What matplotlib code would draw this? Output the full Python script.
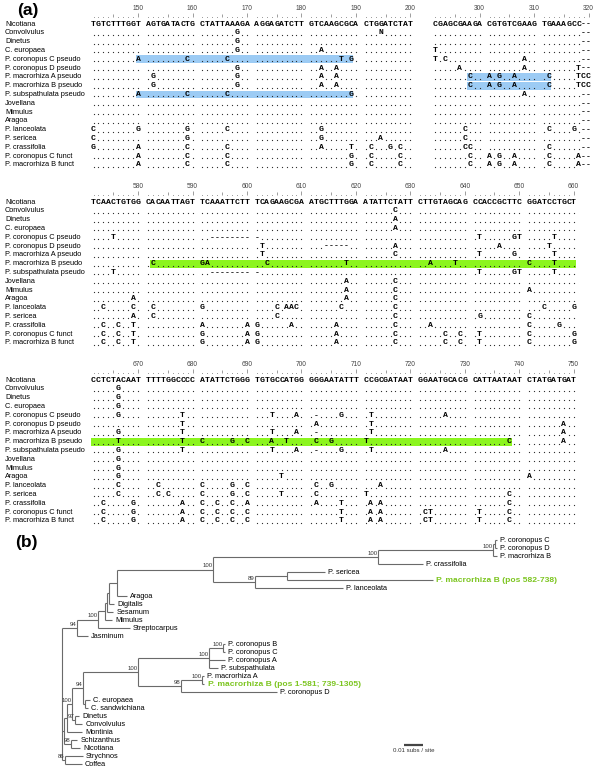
import numpy as np
import matplotlib.pyplot as plt

# ---- panel (a): alignment -------------------------------------------------
taxa = ["Nicotiana", "Convolvulus", "Dinetus", "C. europaea",
        "P. coronopus C pseudo", "P. coronopus D pseudo",
        "P. macrorhiza A pseudo", "P. macrorhiza B pseudo",
        "P. subspathulata pseudo", "Jovellana", "Mimulus", "Aragoa",
        "P. lanceolata", "P. sericea", "P. crassifolia",
        "P. coronopus C funct", "P. macrorhiza B funct"]

# (first position, number of 10-base groups, first column) for each stretch
block_segments = [[(141, 6, 0), (291, 3, 69)],
                  [(571, 9, 0)],
                  [(661, 9, 0)]]

block1_rows = [
    "TGTCTTTGGT AGTGATACTG CTATTAAAGA AGGAGATCTT GTCAAGCGCA CTGGATCTAT CGAGCGAAGA CGTGTCGAAG TGAAAGCC--",
    ".......... .......... .......G.. .......... .......... ...N...... .......... .......... ........--",
    ".......... .......... .......G.. .......... .......... .......... .......... .......... ........--",
    ".......... .......... .......G.. .......... ..A....... .......... T......... .......... ........--",
    ".........A ........C. .....C.... .......... ......T.G. .......... T.C....... .......A.. ........--",
    ".......... .......... .......G.. .......... ..A..A.... .......... .....A.... .......A.. .......T--",
    ".......... .G........ .......G.. .......... ..A..A.... .......... .......C.. A.G..A.... .C.....TCC",
    ".......... .G........ .......G.. .......... ..A..A.... .......... .......C.. A.G..A.... .C.....TCC",
    ".........A ........C. .....C.... .......... ........G. .......... .......... .......A.. ........--",
    ".......... .......... .......... .......... .......... .......... .......... .......... ........--",
    ".......... .......... .......... .......... .......... .......... .......... .......... ........--",
    ".......... .......... .......... .......... .......... .......... .......... .......... ........--",
    "C........G ........G. .....C.... .......... ..G....... .......... ......C... .......... .C....G.--",
    "C......... ........G. .......... .......... ..G....... ...A...... ......C... .......... ........--",
    "G........A ........C. .....C.... .......... ..A.....T. .C...G.C.. ......CC.. .......... .C......--",
    ".........A ........C. .....C.... .......... ........G. .C.....C.. .......C.. A.G..A.... .C.....A--",
    ".........A ........C. .....C.... .......... ........G. .C.....C.. .......C.. A.G..A.... .C.....A--",
]

block2_rows = [
    "TCAACTGTGG CACAATTAGT TCAAATTCTT TCAGAAGCGA ATGCTTTGGA ATATTCTATT CTTGTAGCAG CCACCGCTTC GGATCCTGCT",
    ".......... .......... .......... .......... .......... ......C... .......... .......... ..........",
    ".......... .......... .......... .......... .......... ......A... .......... .......... ..........",
    ".......... .......... .......... .......... .......... ......A... .......... .......... ..........",
    "....T..... .......... ..-------- -......... .......... .......... .......... .T......GT .....T....",
    ".......... .......... .......... .T........ ...-----.. ......A... .......... .....A.... ....T.....",
    ".......... .......... .......... .T........ .......... ......C... .......... .T......G. .....T....",
    ".......... .C........ GA........ ..C....... .......T.. .......... ..A....T.. .......... C....T....",
    "....T..... .......... ..-------- -......... .......... .......... .......... .T......GT .....T....",
    ".......... .......... .......... .......... .......A.. ......C... .......... .......... ..........",
    ".......... .......... .......... .......... .......A.. ......C... .......... .......... A.........",
    "........A. .......... .......... .......... .......A.. ......C... .......... .......... ..........",
    "..C.....C. .C........ G......... ....C.AAC. ......C... ......C... .......... .......... ...C.....G",
    "........A. .C........ .......... ....C..... .......... ......C... .......... .G........ C.........",
    "..C..C..T. .......... A........A G......A.. .....A.... ......C... ..A....... .......... C.....G...",
    "..C..C..T. .......... G........A G......... .....A.... ......C... .....C..C. .T........ C........G",
    "..C..C..T. .......... G........A G......... .....A.... ......C... .....C..C. .T........ C........G",
]

block3_rows = [
    "CCTCTACAAT TTTTGGCCCC ATATTCTGGG TGTGCCATGG GGGAATATTT CCGCGATAAT GGAATGCACG CATTAATAAT CTATGATGAT",
    ".....G.... .......... .......... .......... .......... .......... .......... .......... ..........",
    ".....G.... .......... .......... .......... .......... .......... .......... .......... ..........",
    ".....G.... .......... .......... .......... .......... .......... .......... .......... ..........",
    ".....G.... .......T.. .......... ...T....A. .-....G... .T........ .....A.... .......... ..........",
    ".......... .......T.. .......... .......... .A........ .T........ .......... .......... .......A..",
    ".....G.... .......T.. .......... ...T....A. .-........ .T........ .......... .......... .......A..",
    ".....T.... .......T.. C.....G..C ...A..T... .C..G..... T......... .......... .......C.. .......A..",
    ".....G.... .......T.. .......... ...T....A. .-....G... .T........ .....A.... .......... ..........",
    ".....G.... .......... .......... .......... .......... .......... .......... .......... ..........",
    ".....G.... .......... .......... .......... .......... .......... .......... .......... ..........",
    ".....G.... .......... .......... .....T.... .......... .......... .......... .......... A.........",
    ".....C.... ..C....... C.....G..C .......... .C..G..... ...A...... .......... .......... ..........",
    ".....C.... ..C.C..... C.....G..C .....T.... .C........ T......... .......... .......C.. ..........",
    "..C.....G. .......A.. C..C..C..A .......... .A....T... .A.A...... .......... .......C.. ..........",
    "..C.....G. .......A.. C..C..C..C .......... ......T... .A.A...... .CT....... .T.....C.. ..........",
    "..C.....G. .......A.. C..C..C..C .......... ......T... .A.A...... .CT....... .T.....C.. ..........",
]

# (block, row, first position, last position, colour)
highlights = [(0, 4, 150, 189, "#9ccbf4"), (0, 8, 150, 189, "#9ccbf4"),
              (0, 6, 298, 312, "#9ccbf4"), (0, 7, 298, 312, "#9ccbf4"),
              (1, 7, 582, 660, "#8cf51e"), (2, 7, 661, 738, "#8cf51e")]

# ---- panel (b): tree  (children or name, branch length, bootstrap) --------
node_plantago_f = ([
    ([([([("P. coronopus C", 0.0011, ""), ("P. coronopus D", 0.0011, "")], 0.0011, ""),
         ("P. macrorhiza B", 0.0021, "")], 0.0605, "100"),
      ("P. crassifolia", 0.0237, "")], 0.0868, "100"),
    ([([("P. sericea", 0.0200, ""), ("P. macrorhiza B (pos 582-738)", 0.0768, "")], 0.0168, ""),
      ("P. lanceolata", 0.0463, "")], 0.0221, "89"),
], 0.0505, "100")

node_lamiales = ([
    ([([([([([node_plantago_f, ("Aragoa", 0.0053, "")], 0.0042, ""),
            ("Digitalis", 0.0026, "")], 0.0011, ""),
          ("Sesamum", 0.0032, "")], 0.0011, ""),
        ("Mimulus", 0.0037, "")], 0.0037, ""),
      ("Streptocarpus", 0.0168, "")], 0.0111, "100"),
    ("Jasminum", 0.0058, ""),
], 0.0079, "94")

node_pseudo = ([
    ([([("P. coronopus B", 0.0011, ""), ("P. coronopus C", 0.0011, "")], 0.0074, "100"),
      ("P. coronopus A", 0.0084, ""), ("P. subspathulata", 0.0047, "")], 0.0374, "100"),
    ([([("P. macrorhiza A", 0.0011, ""),
        ("P. macrorhiza B (pos 1-581; 739-1305)", 0.0011, "")], 0.0111, "100"),
      ("P. coronopus D", 0.0505, "")], 0.0226, "98"),
], 0.0289, "100")

node_solanales = ([
    ([([([node_pseudo,
          ([("C. europaea", 0.0026, ""), ("C. sandwichiana", 0.0016, "")], 0.0011, "")],
         0.0058, "94"),
        ([("Dinetus", 0.0021, ""), ("Convolvulus", 0.0037, "")], 0.0016, "97")],
       0.0026, "100"),
      ("Montinia", 0.0079, "")], 0.0016, ""),
    ([("Schizanthus", 0.0032, ""), ("Nicotiana", 0.0047, "")], 0.0037, "98"),
], 0.0011, "")

node_gentianales = ([("Strychnos", 0.0095, ""), ("Coffea", 0.0089, "")], 0.0016, "86")

tree = ([node_lamiales, node_solanales, node_gentianales], 0.0, "")
scale_len = 0.01

# ---------------------------------------------------------------------------
W, H = 600, 773
fig = plt.figure(figsize=(6, 7.73), dpi=100)

pitch = 4.95          # px per alignment column
col0 = 93.5           # px centre of first column
row_h = 8.81          # px per alignment row
top0 = 24             # px of first Nicotiana row
block_gap = 178 / row_h
a_bottom = 530

ax = fig.add_axes([0, 1 - a_bottom / H, 1, a_bottom / H])
ax.set_xlim(-col0 / pitch, (W - col0) / pitch)
ax.set_ylim((a_bottom - top0) / row_h, -top0 / row_h)
ax.axis("off")

mono = "Liberation Mono"
sans = "Liberation Sans"


def pos_to_col(segs, p):
    for first, ngroups, c0 in segs:
        k = p - first
        if 0 <= k < ngroups * 10:
            return c0 + k + k // 10
    return None


blocks = [block1_rows, block2_rows, block3_rows]
for b, rows in enumerate(blocks):
    segs = block_segments[b]
    y0 = b * block_gap
    # ruler
    rx, tx5, tx10 = [], [], []
    for first, ngroups, c0 in segs:
        for k in range(ngroups * 10):
            c = c0 + k + k // 10
            if (k + 1) % 10 == 0:
                tx10.append(c)
                ax.text(c, y0 - 1.75, str(first + k), ha="center", va="center",
                        fontsize=4.8, family=sans, color="#444444")
            elif (k + 1) % 5 == 0:
                tx5.append(c)
            else:
                rx.append(c)
    ax.scatter(rx, np.full(len(rx), y0 - 0.85), s=0.3, color="#777777", linewidths=0)
    ax.vlines(tx5, y0 - 1.1, y0 - 0.8, color="#777777", lw=0.5)
    ax.vlines(tx10, y0 - 1.2, y0 - 0.8, color="#777777", lw=0.5)

    for (hb, hr, p1, p2, colr) in highlights:
        if hb != b:
            continue
        c1, c2 = pos_to_col(segs, p1), pos_to_col(segs, p2)
        ax.add_patch(plt.Rectangle((c1 - 0.5, y0 + hr - 0.45), c2 - c1 + 1, 0.9,
                                   color=colr, lw=0, zorder=0))

    for r, line in enumerate(rows):
        y = y0 + r
        ax.text(-17.9, y, taxa[r], ha="left", va="center", fontsize=5.3,
                family=sans, color="black")
        groups = line.split()
        dx = []
        gi = 0
        for first, ngroups, c0 in segs:
            for g in range(ngroups):
                for j, ch in enumerate(groups[gi]):
                    c = c0 + g * 11 + j
                    if ch == ".":
                        dx.append(c)
                    else:
                        ax.text(c, y, ch, ha="center", va="center", fontsize=5.9,
                                family=mono, weight="bold", color="black")
                gi += 1
        if dx:
            ax.scatter(dx, np.full(len(dx), y + 0.22), s=0.8, color="#2a2a2a",
                       linewidths=0)

# ---- tree -------------------------------------------------------------------
leaf_px0, leaf_step = 540, 8.0
root_px, px_per_unit = 62, 1900
bt = fig.add_axes([0, 0, 1, (H - a_bottom) / H])
bt.set_xlim(-root_px / px_per_unit, (W - root_px) / px_per_unit)
bt.set_ylim((H - leaf_px0) / leaf_step, (a_bottom - leaf_px0) / leaf_step)
bt.axis("off")

leaves, inner = [], []


def layout(node, x0):
    what, bl, sup = node
    x = x0 + bl
    if isinstance(what, str):
        y = len(leaves)
        leaves.append((what, x, y))
        return x, y
    kids = [layout(c, x) for c in what]
    y = (kids[0][1] + kids[-1][1]) / 2
    inner.append((x, y, kids, sup))
    return x, y


layout(tree, 0.0)
lc = "#6a6a6a"
for x, y, kids, sup in inner:
    bt.vlines(x, kids[0][1], kids[-1][1], color=lc, lw=0.8)
    for kx, ky in kids:
        bt.hlines(ky, x, kx, color=lc, lw=0.8)
    if sup:
        bt.text(x - 0.0004, y - 0.15, sup, ha="right", va="bottom", fontsize=4.3,
                family=sans, color="#333333")

for name, x, y in leaves:
    if "(pos" in name:
        bt.text(x + 0.0018, y, name, ha="left", va="center", fontsize=6.1,
                family=sans, weight="bold", color="#7cc520")
    else:
        bt.text(x + 0.0016, y, name, ha="left", va="center", fontsize=5.3,
                family=sans, color="black")

sb_x, sb_y = 0.18, 25.6
bt.hlines(sb_y, sb_x, sb_x + scale_len, color="#444444", lw=1.6)
bt.text(sb_x + scale_len / 2, sb_y + 0.45, "0.01 subs / site", ha="center", va="top",
        fontsize=4.4, family=sans, color="#333333")

fig.text(17 / W, 1 - 10 / H, "(a)", ha="left", va="center", fontsize=12.5,
         weight="bold", family=sans)
fig.text(15 / W, 1 - 542 / H, "(b)", ha="left", va="center", fontsize=12.5,
         weight="bold", family=sans)

fig.savefig("out.png", dpi=100)
